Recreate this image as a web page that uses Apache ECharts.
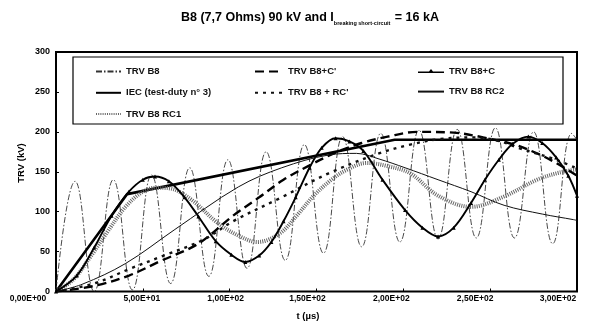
<!DOCTYPE html>
<html>
<head>
<meta charset="utf-8">
<script src="https://cdn.jsdelivr.net/npm/echarts@6/dist/echarts.min.js"></script>
<style>
  html, body { margin: 0; padding: 0; background: #fff; }
  #chart { width: 600px; height: 326px; }
</style>
</head>
<body>
<div id="chart"></div>
<script>
// TRV curves as [t (µs), TRV (kV)]
const trvB8 = [
  [0, 0], [11, 138], [22, 0], [33, 140], [44, 2], [55, 146], [66, 10], [77, 155],
  [88, 19], [99, 165], [110, 29], [121, 175], [132, 39], [143, 184], [154, 48],
  [165, 194], [176, 56], [187, 198], [198, 62], [209, 202], [220, 66], [231, 203],
  [242, 67], [253, 205], [264, 67], [275, 200], [286, 60], [297, 198], [300, 190]
];
const iec = [[0, 0], [41, 122], [195, 190], [300, 190]];
const trvB8RC1 = [
  [0, 0], [10, 15], [20, 44], [30, 76], [40, 106], [50, 125], [58, 130], [66, 129],
  [78, 115], [93, 86], [105, 70], [116, 62], [129, 73], [139, 96], [148, 119],
  [158, 139], [167, 152], [179, 161], [191, 157], [204, 148], [220, 120], [239, 106],
  [258, 119], [277, 140], [290, 149], [300, 153]
];
const trvB8Cp = [
  [0, 0], [22, 7], [42, 20], [60, 38], [82, 60], [102, 95], [117, 118], [131, 140],
  [146, 158], [161, 174], [176, 186], [191, 194], [208, 200], [229, 199], [246, 193],
  [264, 184], [278, 172], [288, 161], [300, 145]
];
const trvB8RCp = [
  [0, 0], [22, 10], [42, 28], [62, 45], [85, 65], [102, 88], [129, 117], [157, 148],
  [186, 173], [204, 184], [221, 191], [241, 193], [256, 188], [266, 180], [288, 165],
  [300, 154]
];
const trvB8C = [
  [0, 0], [12, 20], [22, 55], [32, 95], [42, 125], [50, 140], [57, 144], [65, 138],
  [74, 118], [82, 94], [92, 63], [101, 46], [109, 37], [117, 45], [124, 62], [131, 88],
  [138, 118], [146, 155], [153, 180], [161, 192], [169, 188], [177, 176], [188, 140],
  [201, 102], [211, 80], [220, 69], [229, 80], [239, 111], [247, 140], [255, 165],
  [263, 185], [272, 194], [280, 186], [288, 168], [295, 145], [300, 120]
];
const trvB8RC2 = [
  [0, 0], [15, 9], [40, 35], [68, 77], [105, 131], [130, 155], [157, 171], [173, 173],
  [186, 166], [201, 155], [220, 140], [239, 125], [258, 108], [280, 97], [298, 90],
  [300, 89]
];

const FONT = '"Liberation Sans", Arial, sans-serif';

function sci(v) {
  if (v === 0) return '0,00E+00';
  const e = Math.floor(Math.log10(v));
  const m = v / Math.pow(10, e);
  return m.toFixed(2).replace('.', ',') + 'E+' + String(e).padStart(2, '0');
}

// the scanned labels sit a little left of their ticks
const labelRich = {};
[28, 1, 4, 9, 12, 15, 19].forEach((s, i) => {
  labelRich['l' + i] = {
    fontSize: 8.5, fontWeight: 'bold', fontFamily: FONT, color: '#000',
    padding: [0, s * 2, 0, 0]
  };
});

const legendText = { fontSize: 9.5, fontWeight: 'bold', fontFamily: FONT, color: '#111' };
// line only in the legend keys, except the marked curve
const legendBase = {
  orient: 'vertical', top: 61, itemHeight: 14, itemGap: 10,
  textStyle: legendText,
  itemStyle: { opacity: 0 }
};

const chart = echarts.init(document.getElementById('chart'));
chart.setOption({
  backgroundColor: '#fff',
  animation: false,
  title: {
    left: 176,
    top: 6,
    text: '{a|B8 (7,7 Ohms) 90 kV and I}{s|breaking short-circuit}{a| = 16 kA}',
    textStyle: {
      rich: {
        a: { fontSize: 12.5, fontWeight: 'bold', fontFamily: FONT, color: '#000', verticalAlign: 'bottom' },
        s: { fontSize: 5.5, fontWeight: 'bold', fontFamily: FONT, color: '#000', verticalAlign: 'bottom', padding: [0, 1, -2, 0] }
      }
    }
  },
  grid: {
    left: 56, right: 23, top: 52, bottom: 34.5,
    show: true, borderColor: '#000', borderWidth: 2,
    containLabel: false
  },
  legend: [
    Object.assign({}, legendBase, {
      left: 90, itemWidth: 25,
      data: ['TRV B8', 'IEC (test-duty n° 3)', 'TRV B8 RC1']
    }),
    Object.assign({}, legendBase, {
      left: 249, itemWidth: 28,
      data: ["TRV B8+C'", "TRV B8 + RC'"]
    }),
    Object.assign({}, legendBase, {
      left: 412, itemWidth: 26,
      data: [
        {
          name: 'TRV B8+C',
          icon: 'path://M0,6.2L11,6.2L13,3.8L15,6.2L26,6.2L26,7.8L0,7.8Z',
          itemStyle: { opacity: 1, color: '#000' }
        },
        'TRV B8 RC2'
      ]
    })
  ],
  graphic: [
    {
      type: 'rect', z: -1,
      shape: { x: 73, y: 57, width: 490, height: 67 },
      style: { fill: 'transparent', stroke: '#000', lineWidth: 1.2 }
    },
    {
      type: 'text', x: 21, y: 163, rotation: Math.PI / 2,
      style: { text: 'TRV (kV)', align: 'center', verticalAlign: 'middle', fontSize: 9.5, fontWeight: 'bold', fontFamily: FONT, fill: '#000' }
    },
    {
      type: 'text', x: 308, y: 316,
      style: { text: 't (µs)', align: 'center', verticalAlign: 'middle', fontSize: 9.5, fontWeight: 'bold', fontFamily: FONT, fill: '#000' }
    }
  ],
  xAxis: {
    type: 'value', min: 0, max: 300, interval: 50,
    axisLine: { show: false },
    axisTick: { show: true, inside: true, length: 3, lineStyle: { color: '#000' } },
    splitLine: { show: false },
    axisLabel: {
      margin: 3,
      formatter: v => '{l' + Math.round(v / 50) + '|' + sci(v) + '}',
      rich: labelRich
    }
  },
  yAxis: {
    type: 'value', min: 0, max: 300, interval: 50,
    axisLine: { show: false },
    axisTick: { show: true, inside: true, length: 3, lineStyle: { color: '#000' } },
    splitLine: { show: false },
    axisLabel: { margin: 6, fontSize: 9, fontWeight: 'bold', fontFamily: FONT, color: '#000' }
  },
  series: [
    {
      name: 'TRV B8', type: 'line', data: trvB8, smooth: 0.45, symbol: 'none',
      itemStyle: { color: '#333' },
      lineStyle: { color: '#333', width: 0.9, type: [6, 2, 1.5, 2] }
    },
    {
      name: 'IEC (test-duty n° 3)', type: 'line', data: iec, symbol: 'none',
      itemStyle: { color: '#000' },
      lineStyle: { color: '#000', width: 2.6 }
    },
    {
      name: 'TRV B8 RC1', type: 'line', data: trvB8RC1, smooth: 0.35, symbol: 'none',
      itemStyle: { color: '#666' },
      lineStyle: { color: '#666', width: 4, type: [1, 1.2] }
    },
    {
      name: "TRV B8+C'", type: 'line', data: trvB8Cp, smooth: 0.35, symbol: 'none',
      itemStyle: { color: '#000' },
      lineStyle: { color: '#000', width: 2.4, type: [9, 5] }
    },
    {
      name: "TRV B8 + RC'", type: 'line', data: trvB8RCp, smooth: 0.35, symbol: 'none',
      itemStyle: { color: '#111' },
      lineStyle: { color: '#111', width: 2.4, type: [3, 5] }
    },
    {
      name: 'TRV B8+C', type: 'line', data: trvB8C, smooth: 0.35,
      symbol: 'triangle', symbolSize: 4, showSymbol: true,
      itemStyle: { color: '#000' },
      lineStyle: { color: '#000', width: 1.9 }
    },
    {
      name: 'TRV B8 RC2', type: 'line', data: trvB8RC2, smooth: 0.35, symbol: 'none',
      itemStyle: { color: '#111' },
      lineStyle: { color: '#111', width: 1 }
    }
  ]
});
</script>
</body>
</html>
